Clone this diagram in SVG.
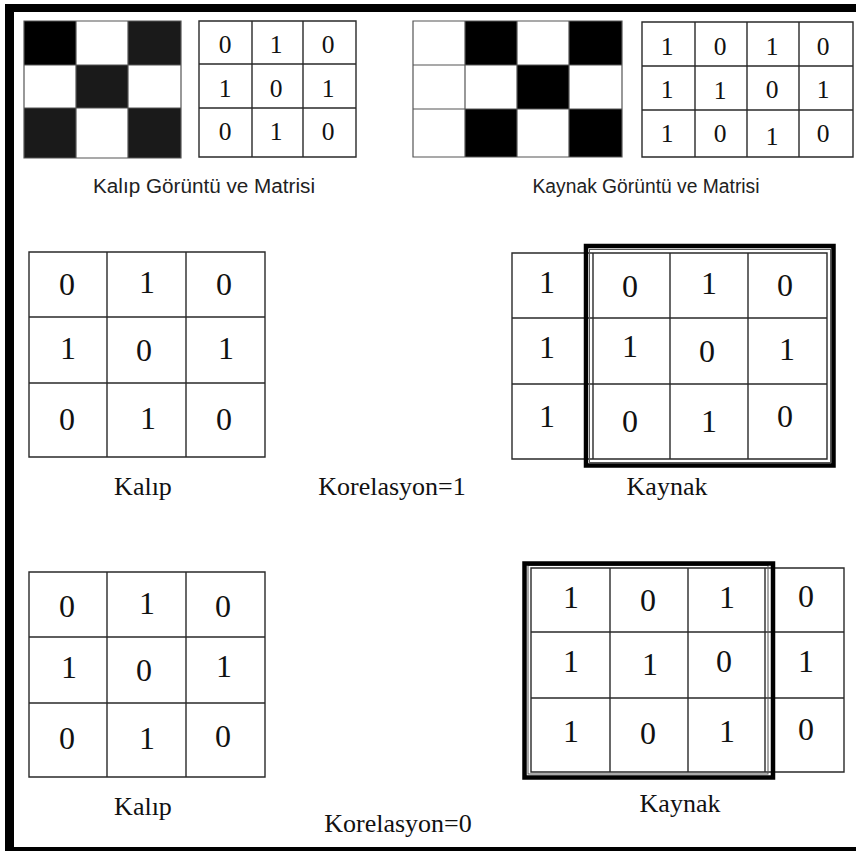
<svg xmlns="http://www.w3.org/2000/svg" width="856" height="851" viewBox="0 0 856 851">
<style>
.grid{fill:none;stroke:#2a2a2a;stroke-width:1.4}
.cgrid{fill:none;stroke:#555;stroke-width:1.2}
.d{font-family:"Liberation Serif","Times New Roman",serif;fill:#111;text-anchor:middle}
.ds{font-size:25.5px}
.dl{font-size:32px}
.cap{font-family:"Liberation Sans",Arial,sans-serif;font-size:20px;fill:#222;text-anchor:middle}
.lbl{font-family:"Liberation Serif","Times New Roman",serif;font-size:26px;fill:#111;text-anchor:middle}
.thick{fill:none;stroke:#000;stroke-width:4.5}
.thin{fill:none;stroke:#555;stroke-width:1}
</style>
<rect width="856" height="851" fill="#fff"/>
<g id="frame" fill="#000">
<rect x="5" y="4" width="9" height="847"/>
<rect x="5" y="4" width="851" height="8"/>
<rect x="5" y="847" width="851" height="4"/>
</g>

<g id="kalip-image">
<rect x="24" y="21" width="52" height="44" fill="#000"/>
<rect x="128" y="21" width="53" height="44" fill="#1a1a1a"/>
<rect x="76" y="65" width="52" height="43" fill="#1a1a1a"/>
<rect x="24" y="108" width="52" height="50" fill="#1a1a1a"/>
<rect x="128" y="108" width="53" height="50" fill="#1a1a1a"/>
<path class="cgrid" d="M24 21H181V158H24Z M76 21V158 M128 21V158 M24 65H181 M24 108H181"/>
</g>

<g id="kalip-matrix-small">
<path class="grid" d="M199 21H356V157H199Z M252 21V157 M303 21V157 M199 64H356 M199 108H356"/>
<g class="d ds">
<text x="225" y="53">0</text><text x="276" y="53">1</text><text x="328" y="53">0</text>
<text x="225" y="97">1</text><text x="276" y="97">0</text><text x="328" y="97">1</text>
<text x="225" y="140">0</text><text x="276" y="140">1</text><text x="328" y="140">0</text>
</g>
</g>
<text id="kalip-caption" class="cap" x="204" y="193" textLength="222" lengthAdjust="spacingAndGlyphs">Kalıp Görüntü ve Matrisi</text>

<g id="kaynak-image">
<rect x="465" y="21" width="52" height="44" fill="#000"/>
<rect x="569" y="21" width="53" height="44" fill="#000"/>
<rect x="517" y="65" width="52" height="44" fill="#000"/>
<rect x="465" y="109" width="52" height="48" fill="#000"/>
<rect x="569" y="109" width="53" height="48" fill="#000"/>
<path class="cgrid" d="M413 21H622V157H413Z M465 21V157 M517 21V157 M569 21V157 M413 65H622 M413 109H622"/>
</g>

<g id="kaynak-matrix-small">
<path class="grid" d="M642 22H853V157H642Z M695 22V157 M747 22V157 M799 22V157 M642 66H853 M642 110H853"/>
<g class="d ds">
<text x="667" y="55">1</text><text x="720" y="55">0</text><text x="772" y="55">1</text><text x="823" y="55">0</text>
<text x="667" y="98">1</text><text x="720" y="99">1</text><text x="772" y="98">0</text><text x="823" y="98">1</text>
<text x="667" y="142">1</text><text x="720" y="142">0</text><text x="772" y="145">1</text><text x="823" y="142">0</text>
</g>
</g>
<text id="kaynak-caption" class="cap" x="646" y="193" textLength="227" lengthAdjust="spacingAndGlyphs">Kaynak Görüntü ve Matrisi</text>

<g id="kalip-1">
<path class="grid" d="M29 252H265V457H29Z M107 252V457 M186 252V457 M29 317H265 M29 383H265"/>
<g class="d dl">
<text x="67" y="295">0</text><text x="147" y="293">1</text><text x="224" y="295">0</text>
<text x="68" y="359">1</text><text x="144" y="361">0</text><text x="226" y="359">1</text>
<text x="67" y="430">0</text><text x="148" y="429">1</text><text x="224" y="430">0</text>
</g>
<text class="lbl" x="143" y="495">Kalıp</text>
</g>

<text id="korelasyon-1" class="lbl" x="392" y="495">Korelasyon=1</text>

<g id="kaynak-1">
<path class="grid" d="M512 253H827V459H512Z M593 253V459 M670 253V459 M748 253V459 M512 318H827 M512 384H827"/>
<rect class="thin" x="589.5" y="249.5" width="241" height="213"/>
<rect class="thick" x="586" y="246" width="247.5" height="219.5"/>
<g class="d dl">
<text x="547" y="293">1</text><text x="630" y="297">0</text><text x="709" y="294">1</text><text x="785" y="296">0</text>
<text x="547" y="358">1</text><text x="630" y="357">1</text><text x="707" y="362">0</text><text x="787" y="360">1</text>
<text x="547" y="427">1</text><text x="630" y="432">0</text><text x="709" y="432">1</text><text x="785" y="427">0</text>
</g>
<text class="lbl" x="667" y="495">Kaynak</text>
</g>

<g id="kalip-2">
<path class="grid" d="M29 572H265V777H29Z M107 572V777 M186 572V777 M29 637H265 M29 703H265"/>
<g class="d dl">
<text x="67" y="617">0</text><text x="147" y="614">1</text><text x="223" y="617">0</text>
<text x="69" y="678">1</text><text x="144" y="681">0</text><text x="224" y="677">1</text>
<text x="67" y="749">0</text><text x="147" y="749">1</text><text x="223" y="747">0</text>
</g>
<text class="lbl" x="143" y="815">Kalıp</text>
</g>

<text id="korelasyon-0" class="lbl" x="398" y="832">Korelasyon=0</text>

<g id="kaynak-2">
<path class="grid" d="M531 568H844V772H531Z M610 568V772 M688 568V772 M765 568V772 M531 632H844 M531 698H844"/>
<rect class="thin" x="528" y="565.5" width="240" height="208.5"/>
<rect class="thick" x="524.5" y="563.5" width="248.5" height="214"/>
<g class="d dl">
<text x="571" y="608">1</text><text x="648" y="611">0</text><text x="727" y="608">1</text><text x="806" y="607">0</text>
<text x="571" y="672">1</text><text x="650" y="675">1</text><text x="724" y="672">0</text><text x="806" y="672">1</text>
<text x="571" y="742">1</text><text x="648" y="744">0</text><text x="727" y="742">1</text><text x="806" y="740">0</text>
</g>
<text class="lbl" x="680" y="812">Kaynak</text>
</g>
</svg>
